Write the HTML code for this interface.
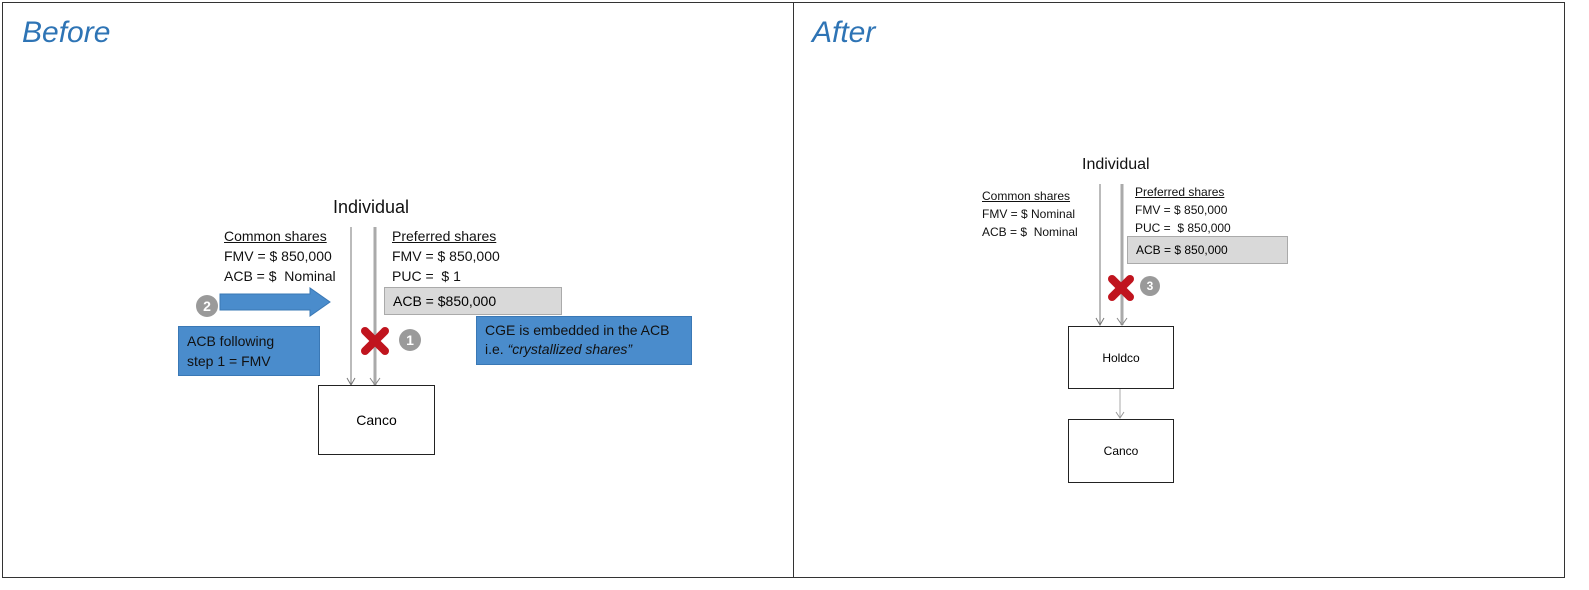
<!DOCTYPE html><html><head><style>
body{margin:0;width:1589px;height:590px;background:#fff;position:relative;font-family:"Liberation Sans",sans-serif;overflow:hidden}
.a{position:absolute;white-space:nowrap;color:#111}
.t{font-size:30px;font-style:italic;color:#2e74b5}
.box{position:absolute;border:1px solid #222;background:#fff;display:flex;align-items:center;justify-content:center;font-size:14px}
.gray{position:absolute;background:#d9d9d9;border:1px solid #aaa;box-sizing:border-box;padding-left:8px;display:flex;align-items:center}
.blue{position:absolute;background:#4a8ccc;border:1px solid #3a78b5;box-sizing:border-box;padding:4px 8px;color:#111}
.c{position:absolute;border-radius:50%;background:#9a9a9a;color:#fff;font-size:14px;font-weight:bold;display:flex;align-items:center;justify-content:center}
u{text-decoration:underline}
</style></head><body>
<div style="position:absolute;left:2px;top:2px;width:1563px;height:576px;border:1px solid #333;box-sizing:border-box"></div>
<div style="position:absolute;left:793px;top:2px;width:1px;height:576px;background:#333"></div>
<div class="a t" style="left:22px;top:16px">Before</div>
<div class="a t" style="left:812px;top:16px">After</div>

<svg style="position:absolute;left:0;top:0" width="1589" height="590">
<line x1="351" y1="227" x2="351" y2="385" stroke="#777" stroke-width="1"/>
<polyline points="347,378 351,385 355,378" fill="none" stroke="#777"/>
<line x1="375" y1="227" x2="375" y2="385" stroke="#aaa" stroke-width="3"/>
<polyline points="370,378 375,385 380,378" fill="none" stroke="#888"/>
<polygon points="220,294 310,294 310,288 330,302 310,316 310,310 220,310" fill="#4a8ccc" stroke="#3a78b5"/>
<g transform="translate(375,341)" stroke="#c0141e" stroke-width="8" stroke-linecap="round"><line x1="-10" y1="-10" x2="10" y2="10"/><line x1="10" y1="-10" x2="-10" y2="10"/></g>
<line x1="1100" y1="184" x2="1100" y2="325" stroke="#777"/>
<polyline points="1096,318 1100,325 1104,318" fill="none" stroke="#777"/>
<line x1="1122" y1="184" x2="1122" y2="325" stroke="#aaa" stroke-width="3"/>
<polyline points="1117,318 1122,325 1127,318" fill="none" stroke="#888"/>
<g transform="translate(1121,288)" stroke="#c0141e" stroke-width="8" stroke-linecap="round"><line x1="-9" y1="-9" x2="9" y2="9"/><line x1="9" y1="-9" x2="-9" y2="9"/></g>
<line x1="1120" y1="388" x2="1120" y2="418" stroke="#aaa"/>
<polyline points="1116,412 1120,418 1124,412" fill="none" stroke="#999"/>
</svg>

<div class="a" style="left:333px;top:197px;font-size:18px">Individual</div>
<div class="a" style="left:224px;top:226px;font-size:14px;line-height:20px"><u>Common shares</u><br>FMV = $ 850,000<br>ACB = $&nbsp; Nominal</div>
<div class="a" style="left:392px;top:226px;font-size:14px;line-height:20px"><u>Preferred shares</u><br>FMV = $ 850,000<br>PUC =&nbsp; $ 1</div>
<div class="gray" style="left:384px;top:287px;width:178px;height:28px;font-size:14px">ACB = $850,000</div>
<div class="c" style="left:196px;top:295px;width:22px;height:22px">2</div>
<div class="blue" style="left:178px;top:326px;width:142px;height:50px;font-size:14px;line-height:20px">ACB following<br>step 1 = FMV</div>
<div class="c" style="left:399px;top:329px;width:22px;height:22px">1</div>
<div class="blue" style="left:476px;top:316px;width:216px;height:49px;font-size:14px;line-height:19px">CGE is embedded in the ACB<br>i.e. <i>“crystallized shares”</i></div>
<div class="box" style="left:318px;top:385px;width:115px;height:68px">Canco</div>

<div class="a" style="left:1082px;top:156px;font-size:16px">Individual</div>
<div class="a" style="left:982px;top:187px;font-size:12px;line-height:18px"><u>Common shares</u><br>FMV = $ Nominal<br>ACB = $&nbsp; Nominal</div>
<div class="a" style="left:1135px;top:183px;font-size:12px;line-height:18px"><u>Preferred shares</u><br>FMV = $ 850,000<br>PUC =&nbsp; $ 850,000</div>
<div class="gray" style="left:1127px;top:236px;width:161px;height:28px;font-size:12px">ACB = $ 850,000</div>
<div class="c" style="left:1140px;top:276px;width:20px;height:20px;font-size:12px">3</div>
<div class="box" style="left:1068px;top:326px;width:104px;height:61px;font-size:12px">Holdco</div>
<div class="box" style="left:1068px;top:419px;width:104px;height:62px;font-size:12px">Canco</div>
</body></html>
